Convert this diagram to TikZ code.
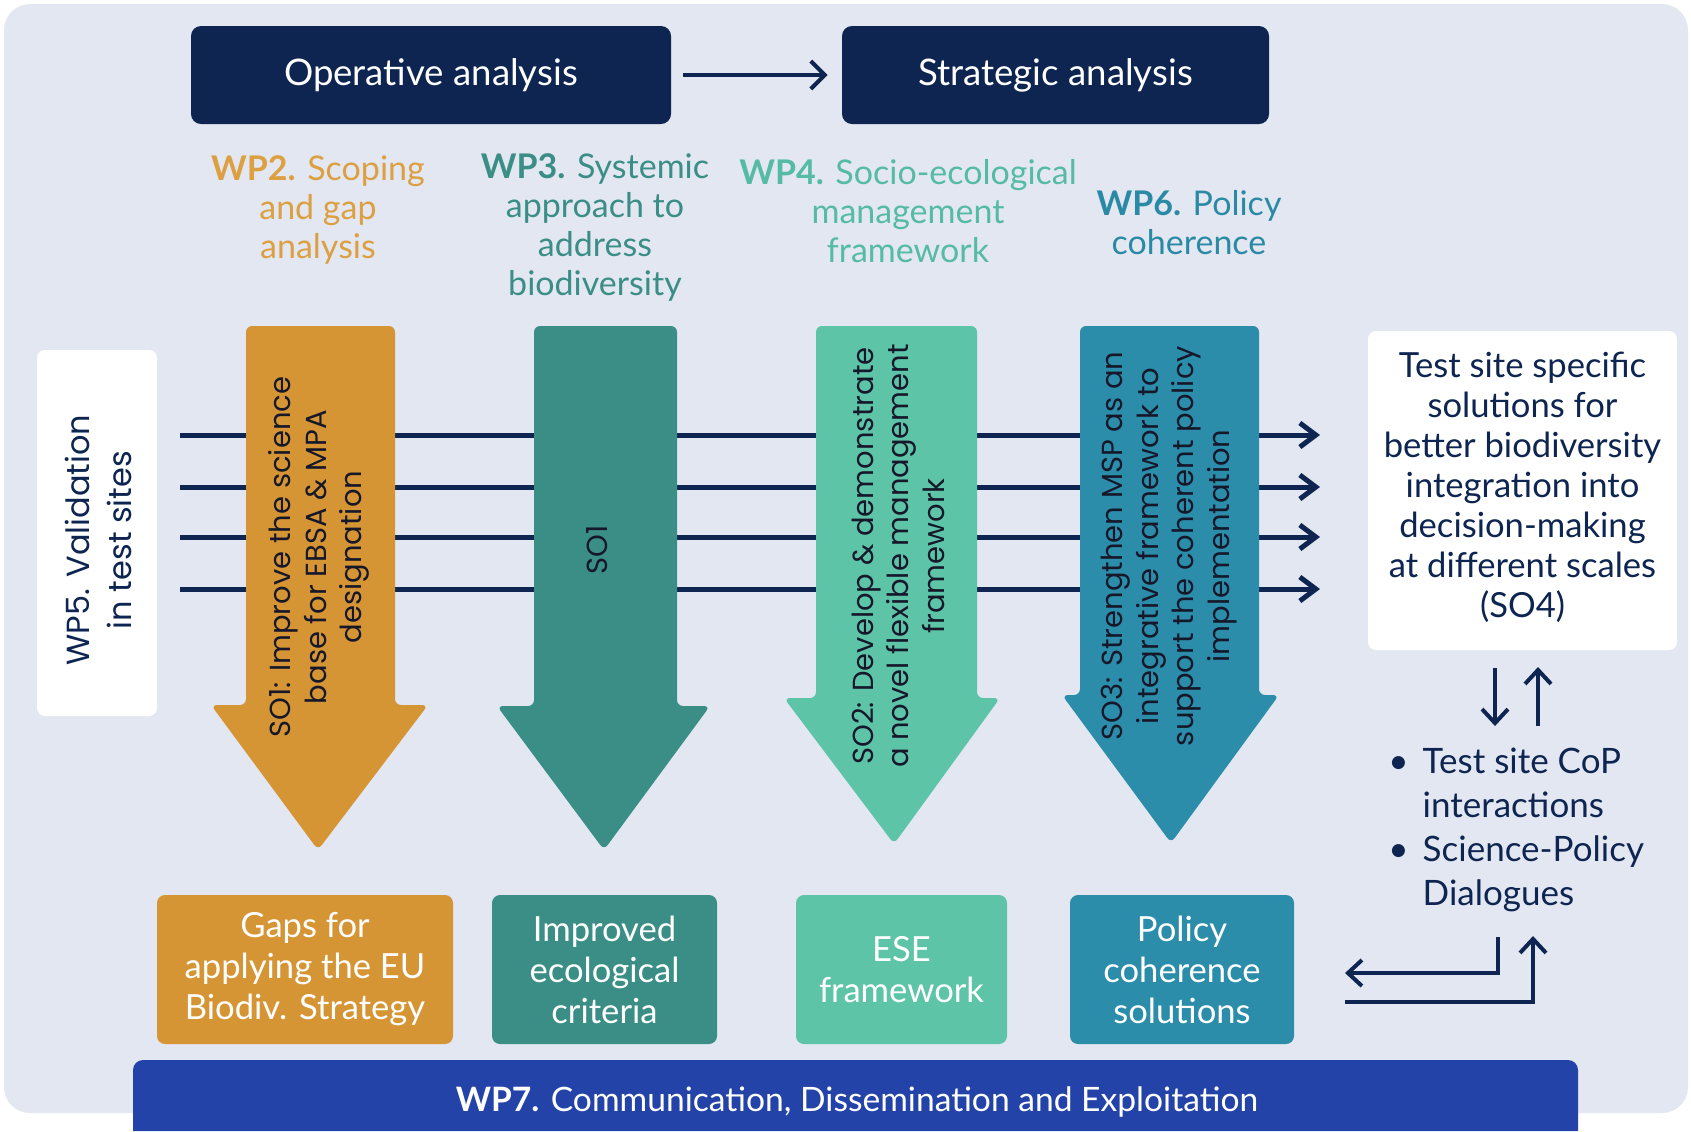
\documentclass[tikz,border=0pt]{standalone}
\usepackage{fontspec}
\setmainfont{Lato}
\newfontfamily\wide{Poppins}
\usetikzlibrary{arrows.meta}
\definecolor{bg}{HTML}{E3E7F1}
\definecolor{navy}{HTML}{0D2550}
\definecolor{orangeC}{HTML}{D69535}
\definecolor{orangeT}{HTML}{DCA043}
\definecolor{tealC}{HTML}{3A8E86}
\definecolor{greenC}{HTML}{5EC4A8}
\definecolor{greenT}{HTML}{55BBA4}
\definecolor{blueC}{HTML}{2B8DAA}
\definecolor{blueT}{HTML}{2A8AA6}
\definecolor{wpblue}{HTML}{2443A9}
\definecolor{arrowtext}{HTML}{16182A}
\begin{document}
\begin{tikzpicture}[x=0.5pt,y=-0.5pt,
  darkbox/.style={fill=navy,rounded corners=5pt,text=white,font=\fontsize{18.3}{22}\selectfont,inner sep=0pt},
  wplabel/.style={align=center,font=\fontsize{17}{19.5}\selectfont},
  rottext/.style={rotate=90,align=center,text=arrowtext,font=\wide\fontsize{14.5}{17.8}\selectfont},
  whitebox/.style={fill=white,rounded corners=4pt,inner sep=0pt},
  outbox/.style={rounded corners=4pt,inner sep=0pt,text=white,align=center,font=\fontsize{17.3}{20.5}\selectfont,minimum height=74.5pt},
  blockarrow/.style={rounded corners=3pt},
  conn/.style={draw=navy,line width=2.5pt,-{Straight Barb[length=8pt,width=12pt]}},
  thinconn/.style={draw=navy,line width=2pt,-{Straight Barb[length=7pt,width=13pt]}},
  plain/.style={draw=navy,line width=2.5pt}
]
\useasboundingbox (0,0) rectangle (1691,1131);
\fill[white] (0,0) rectangle (1691,1131);
\fill[bg, rounded corners=13pt] (4,4) rectangle (1688,1113);

% top boxes
\node[darkbox,minimum width=240pt,minimum height=49pt] (op) at (431,75) {Operative analysis};
\node[darkbox,minimum width=213.5pt,minimum height=49pt] (st) at (1055.5,75) {Strategic analysis};
\draw[draw=navy,line width=2pt,-{Straight Barb[length=7pt,width=14pt]},shorten <=6pt,shorten >=7pt] (op.east) -- (st.west);

% WP labels
\node[wplabel,text=orangeT] (wp2) at (318,210) {\textbf{WP2.} Scoping\\and gap\\analysis};
\node[wplabel,text=tealC] (wp3) at (595,227.5) {\textbf{WP3.} Systemic\\approach to\\address\\biodiversity};
\node[wplabel,text=greenT] (wp4) at (908,211) {\textbf{WP4.} Socio-ecological\\management\\framework};
\node[wplabel,text=blueT] (wp6) at (1189,222.5) {\textbf{WP6.} Policy\\coherence};

% WP5 box
\node[whitebox,minimum width=60pt,minimum height=183pt] (wp5) at (97,533) {};
\node[rotate=90,align=center,text=navy,font=\wide\fontsize{16}{21}\selectfont] (wp5t) at (98,540) {WP5. Validation\\in test sites};

% right box
\node[whitebox,minimum width=154.5pt,minimum height=159.5pt] (so4) at (1522.5,490.5) {};
\node[align=center,text=navy,font=\fontsize{17.3}{20}\selectfont] (so4t) at (1522.5,487.5) {Test site specific\\solutions for\\better biodiversity\\integration into\\decision-making\\at different scales\\(SO4)};

% horizontal lines
\foreach \i/\yy in {1/435,2/487,3/537,4/589}{
  \coordinate (ls\i) at (180,\yy);
  \coordinate (le\i) at (1320,\yy);
  \draw[conn] (ls\i) -- (le\i);
}

% block arrows
\fill[orangeC,blockarrow] (246,326) -- (395,326) -- (395,705) -- (428,705) -- (318,850) -- (211,705) -- (246,705) -- cycle;
\fill[tealC,blockarrow] (534,326) -- (677,326) -- (677,706) -- (710,706) -- (604,850) -- (497,706) -- (534,706) -- cycle;
\fill[greenC,blockarrow] (816,326) -- (977,326) -- (977,698) -- (1000,698) -- (894,844) -- (784,698) -- (816,698) -- cycle;
\fill[blueC,blockarrow] (1080,326) -- (1259,326) -- (1259,695) -- (1279,695) -- (1171,843) -- (1062,695) -- (1080,695) -- cycle;

% arrow texts
\node[rottext] (so1a) at (319,557) {SO1: Improve the science\\base for EBSA \& MPA\\designation};
\node[rottext] (so1b) at (597,550) {SO1};
\node[rottext] (so2) at (898,556) {SO2: Develop \& demonstrate\\a novel flexible management\\framework};
\node[rottext] (so3) at (1169,546) {SO3: Strengthen MSP as an\\integrative framework to\\support the coherent policy\\implementation};

% up/down arrows
\coordinate (d1) at (1495,668); \coordinate (d2) at (1495,726);
\coordinate (u1) at (1538,726); \coordinate (u2) at (1538,667);
\draw[thinconn] (d1) -- (d2);
\draw[thinconn] (u1) -- (u2);

% bullets
\node[anchor=west,text=navy,font=\fontsize{17.5}{22}\selectfont,inner sep=0pt] (bul) at (1388,831)
 {\begin{tabular}{@{}l@{\hspace{7pt}}l@{}}\textbullet & Test site CoP\\ & interactions\\ \textbullet & Science-Policy\\ & Dialogues\end{tabular}};

% return arrows
\coordinate (r1) at (1498,937); \coordinate (r2) at (1498,973); \coordinate (r3) at (1345,973);
\coordinate (q1) at (1345,1002); \coordinate (q2) at (1533,1002); \coordinate (q3) at (1533,936);
\draw[thinconn] (r1) -- (r2) -- (r3);
\draw[thinconn] (q1) -- (q2) -- (q3);

% output boxes
\node[outbox,fill=orangeC,minimum width=148pt] (gaps) at (305,969.5) {Gaps for\\applying the EU\\Biodiv. Strategy};
\node[outbox,fill=tealC,minimum width=112.5pt] (impr) at (604.5,969.5) {Improved\\ecological\\criteria};
\node[outbox,fill=greenC,minimum width=105.5pt] (ese) at (901.5,969.5) {ESE\\framework};
\node[outbox,fill=blueC,minimum width=112pt] (pcs) at (1182,969.5) {Policy\\coherence\\solutions};

% WP7
\fill[wpblue] (133,1131) [rounded corners=5pt] -- (133,1060) -- (1578,1060) [sharp corners] -- (1578,1131) -- cycle;
\node[text=white,font=\fontsize{16.8}{19}\selectfont] (wp7) at (857,1102) {\textbf{WP7.} Communication, Dissemination and Exploitation};
\end{tikzpicture}
\end{document}
